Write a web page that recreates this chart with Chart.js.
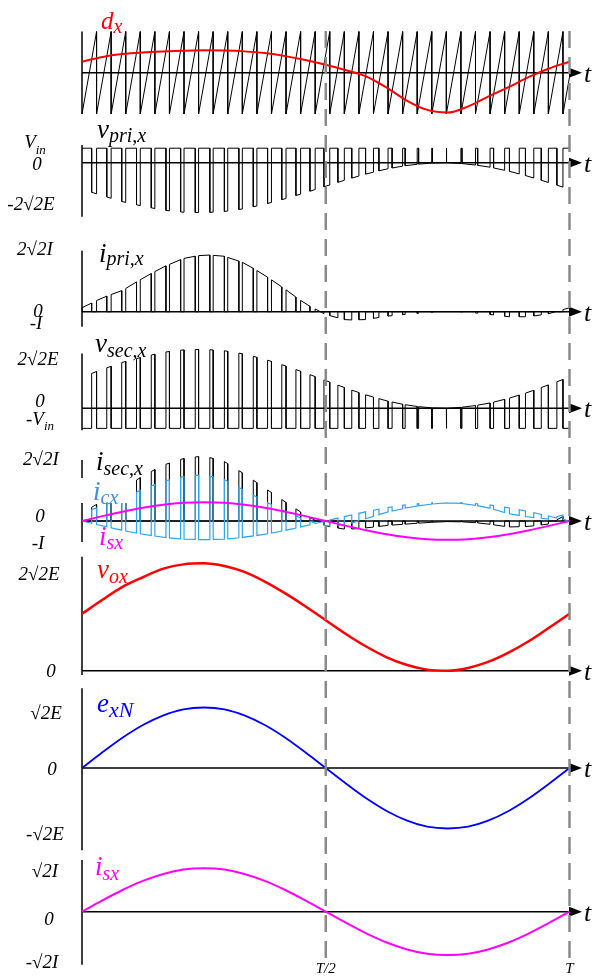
<!DOCTYPE html>
<html>
<head>
<meta charset="utf-8">
<script src="https://cdn.jsdelivr.net/npm/chart.js@4/dist/chart.umd.min.js"></script>
<style>
  html, body { margin: 0; padding: 0; background: #fff; }
  #stage { position: relative; width: 597px; height: 977px; overflow: hidden; background: #fff; }
  #stage canvas { position: absolute; left: 0; top: 0; }
</style>
</head>
<body>
<div id="stage"></div>
<script>
// ---------------- data (one fundamental period, t in units of T) ----------------
const tGrid = [0, 0.042, 0.083, 0.125, 0.167, 0.208, 0.25, 0.292, 0.333, 0.375, 0.417, 0.458,
               0.5, 0.542, 0.583, 0.625, 0.667, 0.708, 0.75, 0.792, 0.833, 0.875, 0.917, 0.958, 1];

// modulating signal d_x (carrier spans -1 .. 1)
const dxRef = [0.27, 0.385, 0.455, 0.495, 0.52, 0.538, 0.545, 0.54, 0.52, 0.478, 0.405, 0.31,
               0.195, 0.06, -0.09, -0.36, -0.68, -0.9, -0.965, -0.815, -0.58, -0.35, -0.1, 0.105, 0.27];

// output voltage v_ox, units of 2√2E
const vox = [0.53, 0.66, 0.78, 0.87, 0.95, 0.99, 1.0, 0.975, 0.92, 0.83, 0.72, 0.6,
             0.47, 0.34, 0.225, 0.125, 0.053, 0.01, 0.0, 0.026, 0.082, 0.168, 0.276, 0.4, 0.53];

// grid voltage e_xN, units of √2E
const exN = [0, 0.26, 0.5, 0.71, 0.87, 0.97, 1, 0.97, 0.87, 0.71, 0.5, 0.26,
             0, -0.26, -0.5, -0.71, -0.87, -0.97, -1, -0.97, -0.87, -0.71, -0.5, -0.26, 0];

// grid current i_sx, units of √2I
const isx = [0, 0.26, 0.5, 0.71, 0.87, 0.97, 1, 0.97, 0.87, 0.71, 0.5, 0.26,
             0, -0.26, -0.5, -0.71, -0.87, -0.97, -1, -0.97, -0.87, -0.71, -0.5, -0.26, 0];

// primary current level while conducting, units of 2√2I
const iPriOn = [0.07, 0.25, 0.38, 0.6, 0.8, 0.95, 1.02, 0.99, 0.87, 0.65, 0.4, 0.14,
                -0.05, -0.15, -0.14, -0.08, -0.045, -0.015, 0, -0.01, -0.045, -0.09, -0.09, -0.035, 0.07];

// secondary current level while conducting, units of √2I
const iSecOn = [0.43, 1.07, 1.71, 2.41, 2.99, 3.34, 3.48, 3.18, 2.51, 1.76, 1.02, 0.32,
                -0.27, -0.45, -0.37, -0.24, -0.16, -0.08, -0.03, -0.05, -0.16, -0.32, -0.29, -0.16, 0.43];

const carrierCycles = 33.45;   // sawtooth carrier periods per T
const vPriHigh = 0.29;         // +V_in on the primary, units of 2√2E
const vSecLow = -0.34;         // -V_in on the secondary, units of 2√2E

const timeTicks = [0.5, 1];
const timeTickLabels = ['T/2', 'T'];

// ---------------- layout ----------------
const W = 597, H = 977, X0 = 82, XT = 569.5;
const SERIF = '"Liberation Serif", "Times New Roman", "DejaVu Serif", serif';
const stage = document.getElementById('stage');

function lookup(arr, t) {
  const n = tGrid.length - 1;
  let i = 0;
  while (i < n - 1 && t > tGrid[i + 1]) i++;
  const f = Math.max(0, Math.min(1, (t - tGrid[i]) / (tGrid[i + 1] - tGrid[i])));
  return arr[i] + (arr[i + 1] - arr[i]) * f;
}

// switching instants: carrier rises from -1 to 1 each cycle, switch where it crosses d_x
const P = 1 / carrierCycles;
const cycles = [];
for (let n = 0; n * P < 1 - 1e-9; n++) {
  const s = n * P, e = Math.min(1, (n + 1) * P);
  let w = s + P * (lookup(dxRef, s + P / 2) + 1) / 2;
  for (let k = 0; k < 3; k++) w = s + P * (lookup(dxRef, Math.min(1, w)) + 1) / 2;
  w = Math.max(s, Math.min(e, w));
  cycles.push({ s, w, e });
}
function build(fn) { const pts = []; cycles.forEach(c => fn(c, pts)); return pts; }
const curve = arr => tGrid.map((t, i) => ({ x: t, y: arr[i] }));

const carrierPts = build((c, p) => {
  p.push({ x: c.s, y: -1 }, { x: c.e, y: -1 + 2 * (c.e - c.s) / P });
});
const vPriPts = build((c, p) => {
  p.push({ x: c.s, y: vPriHigh }, { x: c.w, y: vPriHigh });
  if (c.e > c.w) p.push({ x: c.w, y: -lookup(vox, c.w) }, { x: c.e, y: -lookup(vox, c.e) });
});
const iPriPts = build((c, p) => {
  p.push({ x: c.s, y: 0 }, { x: c.s, y: lookup(iPriOn, c.s) },
         { x: c.w, y: lookup(iPriOn, c.w) }, { x: c.w, y: 0 });
  if (c.e > c.w) p.push({ x: c.e, y: 0 });
});
const vSecPts = build((c, p) => {
  p.push({ x: c.s, y: vSecLow }, { x: c.w, y: vSecLow });
  if (c.e > c.w) p.push({ x: c.w, y: lookup(vox, c.w) }, { x: c.e, y: lookup(vox, c.e) });
});
const iSecPts = build((c, p) => {
  p.push({ x: c.s, y: 0 }, { x: c.w, y: 0 });
  if (c.e > c.w) p.push({ x: c.w, y: lookup(iSecOn, c.w) }, { x: c.e, y: lookup(iSecOn, c.e) }, { x: c.e, y: 0 });
});
const iCxPts = build((c, p) => {
  p.push({ x: c.s, y: -lookup(isx, c.s) }, { x: c.w, y: -lookup(isx, c.w) });
  if (c.e > c.w) p.push({ x: c.w, y: lookup(iSecOn, c.w) - lookup(isx, c.w) },
                        { x: c.e, y: lookup(iSecOn, c.e) - lookup(isx, c.e) },
                        { x: c.e, y: -lookup(isx, c.e) });
});

function ds(data, color, width, smooth) {
  return {
    data, borderColor: color, borderWidth: width, pointRadius: 0, fill: false,
    tension: smooth ? 0.4 : 0, cubicInterpolationMode: smooth ? 'monotone' : 'default',
    clip: false, borderJoinStyle: 'miter'
  };
}

// ---------------- text helpers ----------------
function runWidth(ctx, parts) {
  let w = 0;
  for (const [txt, size] of parts) { ctx.font = `italic ${size}px ${SERIF}`; w += ctx.measureText(txt).width; }
  return w;
}
function drawRun(ctx, parts, x, y, color, centered) {
  let cx = centered ? x - runWidth(ctx, parts) / 2 : x;
  ctx.fillStyle = color;
  ctx.textBaseline = 'alphabetic';
  ctx.textAlign = 'left';
  for (const [txt, size, dy] of parts) {
    ctx.font = `italic ${size}px ${SERIF}`;
    ctx.fillText(txt, cx, y + (dy || 0));
    cx += ctx.measureText(txt).width;
  }
}

// ---------------- panels ----------------
const panels = [
  { zero: 72.8, unit: 41.2, axis: [1, -1],
    datasets: [ds(curve(dxRef), '#ff0000', 2, true), ds(carrierPts, '#000', 1)],
    titles: [{ x: 101, y: 29, color: '#ff0000', parts: [['d', 25], ['x', 20, 4]] }],
    ticks: [] },
  { zero: 162.7, unit: 50, axis: [0.354, -1.08],
    datasets: [ds(vPriPts, '#000', 1)],
    titles: [{ x: 97, y: 138, color: '#000', parts: [['v', 27], ['pri,x', 20, 4]] }],
    ticks: [{ x: 35, y: 148, parts: [['V', 19], ['in', 13, 6]] },
            { x: 37, y: 170, parts: [['0', 19]] },
            { x: 31, y: 210, parts: [['-2√2E', 19]] }] },
  { zero: 311.7, unit: 56, axis: [1.09, -0.27],
    datasets: [ds(iPriPts, '#000', 1)],
    titles: [{ x: 99, y: 262, color: '#000', parts: [['i', 27], ['pri,x', 20, 3]] }],
    ticks: [{ x: 35, y: 255, parts: [['2√2I', 19]] },
            { x: 38, y: 317, parts: [['0', 19]] },
            { x: 36, y: 329, parts: [['-I', 19]] }] },
  { zero: 408.3, unit: 59, axis: [0.93, -0.37],
    datasets: [ds(vSecPts, '#000', 1)],
    titles: [{ x: 95, y: 352, color: '#000', parts: [['v', 27], ['sec,x', 20, 5]] }],
    ticks: [{ x: 38, y: 365, parts: [['2√2E', 19]] },
            { x: 40, y: 407, parts: [['0', 19]] },
            { x: 40, y: 425, parts: [['-V', 19], ['in', 13, 5]] }] },
  { zero: 521, unit: 18.7, axis: [3.26, -1.12],
    datasets: [ds(curve(isx), '#ff00ff', 2, true), ds(iCxPts, '#2fa4f0', 1.2), ds(iSecPts, '#000', 1)],
    titles: [{ x: 96, y: 470, color: '#000', parts: [['i', 27], ['sec,x', 20, 5]] },
             { x: 93, y: 500, color: '#3d8fe0', parts: [['i', 27], ['cx', 20, 4]], box: [79, 478, 49, 25] },
             { x: 99, y: 545, color: '#ff00ff', parts: [['i', 27], ['sx', 20, 4]] }],
    ticks: [{ x: 41, y: 465, parts: [['2√2I', 19]] },
            { x: 40, y: 522, parts: [['0', 19]] },
            { x: 38, y: 549, parts: [['-I', 19]] }] },
  { zero: 670.7, unit: 107.4, axis: [1.06, -0.04],
    datasets: [ds(curve(vox), '#ff0000', 2.5, true)],
    titles: [{ x: 97, y: 578, color: '#ff0000', parts: [['v', 27], ['ox', 20, 5]] }],
    ticks: [{ x: 39, y: 580, parts: [['2√2E', 19]] },
            { x: 51, y: 677, parts: [['0', 19]] }] },
  { zero: 768, unit: 60.5, axis: [1.32, -1.36],
    datasets: [ds(curve(exN), '#0000ff', 1.8, true)],
    titles: [{ x: 97, y: 712, color: '#0000ff', parts: [['e', 27], ['xN', 22, 5]] }],
    ticks: [{ x: 46, y: 719, parts: [['√2E', 19]] },
            { x: 52, y: 775, parts: [['0', 19]] },
            { x: 45, y: 840, parts: [['-√2E', 19]] }] },
  { zero: 911.7, unit: 43.4, axis: [1.19, -1.22],
    datasets: [ds(curve(isx), '#ff00ff', 2, true)],
    titles: [{ x: 95, y: 875, color: '#ff00ff', parts: [['i', 27], ['sx', 20, 5]] }],
    ticks: [{ x: 45, y: 877, parts: [['√2I', 19]] },
            { x: 49, y: 925, parts: [['0', 19]] },
            { x: 42, y: 968, parts: [['-√2I', 19]] }],
    last: true }
];

function axesPlugin(cfg) {
  return {
    id: 'axes',
    beforeDatasetsDraw(chart) {
      const ctx = chart.ctx, xs = chart.scales.x, ys = chart.scales.y;
      const y0 = ys.getPixelForValue(0), xL = xs.getPixelForValue(0);
      ctx.save();
      ctx.strokeStyle = '#000';
      ctx.lineWidth = 1.5;
      ctx.beginPath();
      ctx.moveTo(xL, ys.getPixelForValue(cfg.axis[0]));
      ctx.lineTo(xL, ys.getPixelForValue(cfg.axis[1]));
      ctx.moveTo(xL, y0);
      ctx.lineTo(574, y0);
      ctx.stroke();
      ctx.fillStyle = '#000';
      ctx.beginPath();
      ctx.moveTo(582, y0);
      ctx.lineTo(569, y0 - 5);
      ctx.lineTo(569, y0 + 5);
      ctx.closePath();
      ctx.fill();
      drawRun(ctx, [['t', 26]], 584, y0 + 9, '#000', false);
      ctx.restore();
    },
    afterDatasetsDraw(chart) {
      const ctx = chart.ctx;
      ctx.save();
      for (const tk of cfg.ticks) drawRun(ctx, tk.parts, tk.x, tk.y, '#000', true);
      for (const tl of cfg.titles) {
        if (tl.box) { ctx.fillStyle = '#fff'; ctx.fillRect(tl.box[0], tl.box[1], tl.box[2], tl.box[3]); }
        drawRun(ctx, tl.parts, tl.x, tl.y, tl.color, false);
      }
      if (cfg.last) {
        const xs = chart.scales.x;
        ctx.strokeStyle = '#8a8a8a';
        ctx.lineWidth = 2.5;
        ctx.setLineDash([17, 9]);
        ctx.beginPath();
        for (const t of timeTicks) {
          const x = xs.getPixelForValue(t);
          ctx.moveTo(x, 31);
          ctx.lineTo(x, 960);
        }
        ctx.stroke();
        ctx.setLineDash([]);
        timeTicks.forEach((t, i) =>
          drawRun(ctx, [[timeTickLabels[i], 15]], xs.getPixelForValue(t), 973, '#000', true));
      }
      ctx.restore();
    }
  };
}

for (const cfg of panels) {
  const canvas = document.createElement('canvas');
  canvas.width = W; canvas.height = H;
  canvas.style.width = W + 'px'; canvas.style.height = H + 'px';
  stage.appendChild(canvas);
  new Chart(canvas, {
    type: 'line',
    data: { datasets: cfg.datasets },
    options: {
      responsive: false,
      animation: false,
      devicePixelRatio: 1,
      events: [],
      layout: { padding: { left: X0, right: W - XT, top: 0, bottom: 0 } },
      scales: {
        x: { type: 'linear', min: 0, max: 1, display: false },
        y: { type: 'linear', min: -(H - cfg.zero) / cfg.unit, max: cfg.zero / cfg.unit, display: false }
      },
      plugins: { legend: { display: false }, tooltip: { enabled: false } },
      elements: { point: { radius: 0 } }
    },
    plugins: [axesPlugin(cfg)]
  });
}
</script>
</body>
</html>
